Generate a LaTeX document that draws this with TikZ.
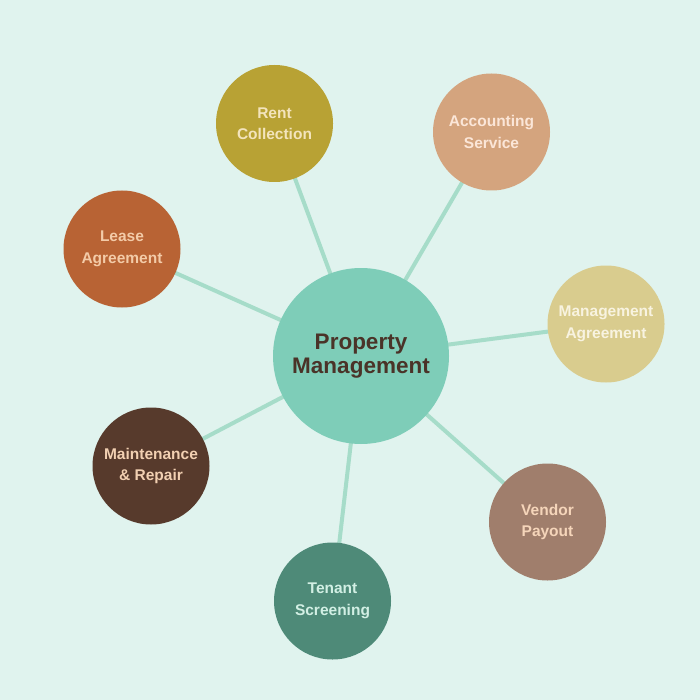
\documentclass[tikz,border=0pt]{standalone}
\usepackage{fontspec}
\setmainfont{Liberation Sans}
\definecolor{bg}{HTML}{E0F3EE}
\definecolor{link}{HTML}{A6DCC9}
\definecolor{cmain}{HTML}{7ECDB8}
\definecolor{tmain}{HTML}{4A3328}
\definecolor{crent}{HTML}{B8A234}
\definecolor{trent}{HTML}{F3E4BC}
\definecolor{cacc}{HTML}{D4A47E}
\definecolor{tacc}{HTML}{FBE6D8}
\definecolor{cmgmt}{HTML}{D9CC8E}
\definecolor{tmgmt}{HTML}{F8F3E0}
\definecolor{cvend}{HTML}{A07E6C}
\definecolor{tvend}{HTML}{F5D5BA}
\definecolor{cten}{HTML}{4E8A78}
\definecolor{tten}{HTML}{D2EFE4}
\definecolor{cmaint}{HTML}{573A2C}
\definecolor{tmaint}{HTML}{F2D0B2}
\definecolor{clease}{HTML}{B86334}
\definecolor{tlease}{HTML}{F3CBA8}
\tikzset{
  hub/.style={circle, fill=cmain, minimum size=176pt, inner sep=0pt, align=center,
    text=tmain, font=\fontsize{22.5}{24}\selectfont\bfseries},
  sat/.style={circle, minimum size=117pt, inner sep=0pt, align=center,
    font=\fontsize{15.5}{21.5}\selectfont\bfseries},
  spoke/.style={draw=link, line width=4pt}
}
\begin{document}
\begin{tikzpicture}[x=1pt,y=-1pt]
\fill[bg] (0,0) rectangle (700,700);
\useasboundingbox (0,0) rectangle (700,700);
\coordinate (hc) at (361,356);
\coordinate (rc) at (274.5,123.5);
\coordinate (ac) at (491.5,132);
\coordinate (mc) at (606,324);
\coordinate (vc) at (547.5,522);
\coordinate (tc) at (332.5,601);
\coordinate (pc) at (151,466);
\coordinate (lc) at (122,249);
\draw[spoke] (hc) -- (rc);
\draw[spoke] (hc) -- (ac);
\draw[spoke] (hc) -- (mc);
\draw[spoke] (hc) -- (vc);
\draw[spoke] (hc) -- (tc);
\draw[spoke] (hc) -- (pc);
\draw[spoke] (hc) -- (lc);
\node[hub] (hub) at (hc) {Property\\Management};
\node[sat, fill=crent, text=trent] (rent) at (rc) {Rent\\Collection};
\node[sat, fill=cacc, text=tacc] (acc) at (ac) {Accounting\\Service};
\node[sat, fill=cmgmt, text=tmgmt] (mgmt) at (mc) {Management\\Agreement};
\node[sat, fill=cvend, text=tvend] (vend) at (vc) {Vendor\\Payout};
\node[sat, fill=cten, text=tten] (ten) at (tc) {Tenant\\Screening};
\node[sat, fill=cmaint, text=tmaint] (maint) at (pc) {Maintenance\\\& Repair};
\node[sat, fill=clease, text=tlease] (lease) at (lc) {Lease\\Agreement};
\end{tikzpicture}
\end{document}
